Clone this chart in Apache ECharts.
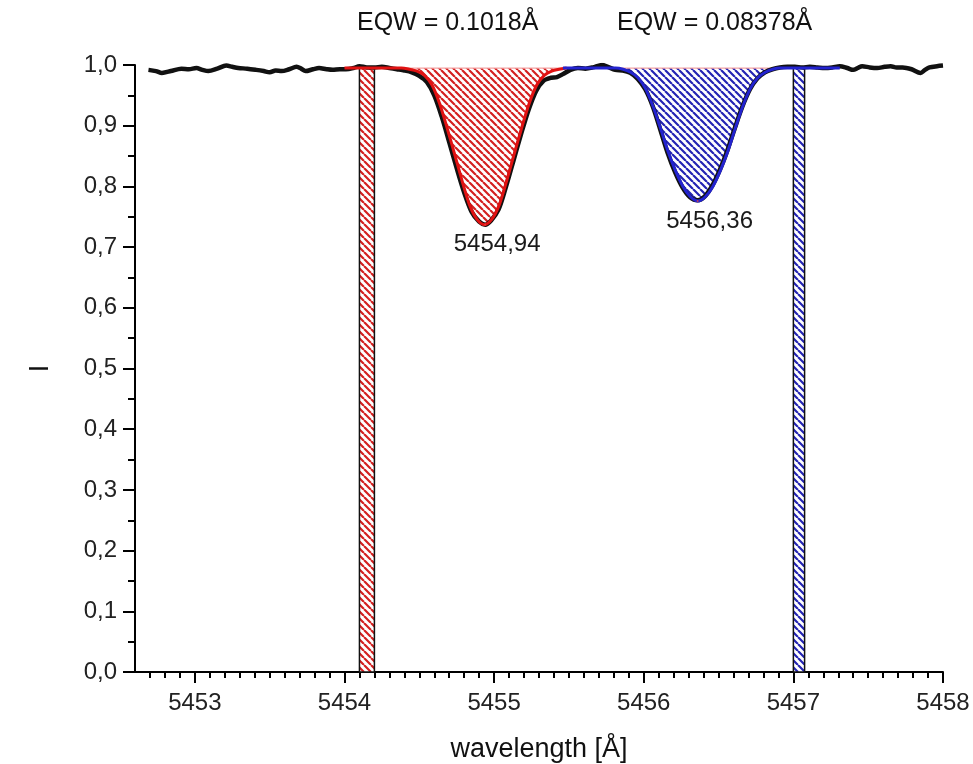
<!DOCTYPE html>
<html>
<head>
<meta charset="utf-8">
<script src="https://cdn.jsdelivr.net/npm/echarts@6/dist/echarts.min.js"></script>
<style>html,body{margin:0;padding:0;background:#fff}#c{width:973px;height:764px}</style>
</head>
<body>
<div id="c"></div>
<script>
// ---- data ----
const obsWave = [5452.69,5452.74,5452.78,5452.84,5452.91,5452.96,5453.01,5453.05,5453.09,5453.15,5453.21,5453.25,5453.29,5453.35,5453.41,5453.46,5453.50,5453.54,5453.58,5453.63,5453.68,5453.71,5453.74,5453.79,5453.83,5453.88,5453.92,5453.97,5454.01,5454.06,5454.10,5454.15,5454.20,5454.25,5454.30,5454.35,5454.40,5454.45,5454.50,5454.55,5454.60,5454.65,5454.70,5454.75,5454.80,5454.85,5454.90,5454.94,5454.98,5455.03,5455.08,5455.13,5455.18,5455.23,5455.28,5455.33,5455.38,5455.42,5455.46,5455.51,5455.56,5455.61,5455.66,5455.72,5455.76,5455.81,5455.86,5455.91,5455.96,5456.01,5456.06,5456.11,5456.16,5456.21,5456.26,5456.31,5456.36,5456.41,5456.46,5456.51,5456.56,5456.61,5456.66,5456.71,5456.76,5456.81,5456.86,5456.91,5456.96,5457.01,5457.06,5457.11,5457.16,5457.21,5457.26,5457.31,5457.36,5457.40,5457.43,5457.46,5457.51,5457.56,5457.61,5457.65,5457.69,5457.73,5457.79,5457.85,5457.88,5457.91,5457.96,5458.00];
const obsFlux = [0.992,0.990,0.987,0.990,0.994,0.993,0.995,0.992,0.990,0.994,0.999,0.997,0.995,0.994,0.992,0.990,0.988,0.991,0.990,0.993,0.997,0.994,0.990,0.993,0.995,0.993,0.992,0.993,0.993,0.995,0.998,0.996,0.996,0.997,0.995,0.993,0.991,0.988,0.982,0.972,0.950,0.915,0.873,0.830,0.790,0.758,0.742,0.737,0.744,0.762,0.800,0.843,0.886,0.926,0.957,0.974,0.979,0.980,0.985,0.992,0.995,0.994,0.996,1.000,0.997,0.992,0.991,0.987,0.977,0.960,0.932,0.894,0.855,0.823,0.798,0.782,0.777,0.784,0.802,0.828,0.860,0.897,0.932,0.960,0.978,0.988,0.993,0.996,0.997,0.997,0.996,0.997,0.996,0.995,0.996,0.998,0.995,0.992,0.995,0.998,0.996,0.995,0.997,0.998,0.996,0.996,0.993,0.987,0.992,0.996,0.998,0.999];

const fit1Wave = [5454.00,5454.20,5454.30,5454.38,5454.435,5454.485,5454.535,5454.585,5454.635,5454.685,5454.735,5454.785,5454.835,5454.885,5454.935,5454.985,5455.035,5455.085,5455.135,5455.185,5455.235,5455.285,5455.335,5455.385,5455.435,5455.485];
const fit1Flux = [0.995,0.995,0.995,0.995,0.993,0.990,0.983,0.967,0.937,0.897,0.854,0.810,0.770,0.746,0.737,0.746,0.770,0.810,0.854,0.897,0.937,0.967,0.983,0.990,0.993,0.995];

const fit2Wave = [5455.46,5455.60,5455.75,5455.812,5455.862,5455.912,5455.962,5456.012,5456.062,5456.112,5456.162,5456.212,5456.262,5456.312,5456.362,5456.412,5456.462,5456.512,5456.562,5456.612,5456.662,5456.712,5456.762,5456.812,5456.862,5456.912,5457.00,5457.31];
const fit2Flux = [0.995,0.995,0.995,0.995,0.993,0.988,0.979,0.961,0.932,0.896,0.858,0.826,0.800,0.783,0.776,0.783,0.800,0.826,0.858,0.896,0.932,0.961,0.979,0.988,0.993,0.995,0.995,0.995];

const continuumLevel = 0.995;
const continuumSpan = [5454.1, 5457.0];

const redBar = [5454.10, 5454.20];
const blueBar = [5457.00, 5457.075];

const lineCenters = [5454.94, 5456.36];
const lineMinima = [0.737, 0.776];
const lineLabels = ['5454,94', '5456,36'];

const eqwTexts = ['EQW = 0.1018Å', 'EQW = 0.08378Å'];

const xLabelValues = [5453, 5454, 5455, 5456, 5457, 5458];
const xMin = 5452.6, xMax = 5458;
// ---- end data ----

const xMinorTicks = [];
for (let i = 5452.7 * 10; i <= 5458 * 10 + 0.01; i++) {
  const v = Math.round(i) / 10;
  if (Math.abs(v - Math.round(v)) > 1e-6) xMinorTicks.push(v);
}

function hatch(color) {
  const s = 7;
  const c = document.createElement('canvas');
  c.width = s; c.height = s;
  const g = c.getContext('2d');
  g.fillStyle = '#ffffff';
  g.fillRect(0, 0, s, s);
  g.strokeStyle = color;
  g.lineWidth = 2.2;
  g.beginPath();
  for (const x0 of [-s, 0, s]) {
    g.moveTo(x0, 0);
    g.lineTo(x0 + s, s);
  }
  g.stroke();
  return { image: c, repeat: 'repeat' };
}
const redHatch = hatch('#d42020');
const blueHatch = hatch('#2424b4');

const zip = (a, b) => a.map((v, i) => [v, b[i]]);
const FONT = "'Liberation Sans', Arial, sans-serif";

const chart = echarts.init(document.getElementById('c'));
chart.setOption({
  animation: false,
  backgroundColor: '#ffffff',
  grid: { left: 135, right: 30, top: 65, bottom: 92, containLabel: false, outerBoundsMode: 'none' },
  graphic: [
    { type: 'text', left: 357, top: 11, style: { text: eqwTexts[0], font: "25px " + FONT, fill: '#111' } },
    { type: 'text', left: 617, top: 11, style: { text: eqwTexts[1], font: "25px " + FONT, fill: '#111' } }
  ],
  xAxis: [{
    type: 'value', min: xMin, max: xMax, position: 'bottom',
    name: 'wavelength [Å]', nameLocation: 'middle', nameGap: 64,
    nameTextStyle: { fontSize: 27, color: '#111', fontFamily: FONT },
    axisLine: { show: true, onZero: false, lineStyle: { color: '#000', width: 2 } },
    axisTick: { show: true, inside: false, length: 11, lineStyle: { color: '#000', width: 2 }, customValues: xLabelValues },
    axisLabel: { show: true, margin: 19, fontSize: 24, color: '#222', fontFamily: FONT, customValues: xLabelValues, formatter: v => String(Math.round(v)) },
    splitLine: { show: false }
  }, {
    type: 'value', min: xMin, max: xMax, position: 'bottom',
    axisLine: { show: false, onZero: false },
    axisTick: { show: true, inside: false, length: 6, lineStyle: { color: '#000', width: 2 }, customValues: xMinorTicks },
    axisLabel: { show: false },
    splitLine: { show: false }
  }],
  yAxis: {
    type: 'value', min: 0, max: 1, interval: 0.1,
    name: 'I', nameLocation: 'middle', nameGap: 81, nameRotate: 90,
    nameTextStyle: { fontSize: 27, color: '#111', fontFamily: FONT },
    axisLine: { show: true, onZero: false, lineStyle: { color: '#000', width: 2 } },
    axisTick: { show: true, inside: false, length: 12, lineStyle: { color: '#000', width: 2 } },
    minorTick: { show: true, splitNumber: 2, length: 7, lineStyle: { color: '#000', width: 2 } },
    axisLabel: { margin: 18, fontSize: 24, color: '#222', fontFamily: FONT, formatter: v => v.toFixed(1).replace('.', ',') },
    splitLine: { show: false }
  },
  series: [
    {
      name: 'bars', type: 'line', data: [], z: 1,
      markArea: {
        silent: true,
        label: { show: false },
        data: [
          [{ xAxis: redBar[0], yAxis: 0, itemStyle: { color: redHatch, borderColor: '#111', borderWidth: 1.5, opacity: 1 } }, { xAxis: redBar[1], yAxis: continuumLevel }],
          [{ xAxis: blueBar[0], yAxis: 0, itemStyle: { color: blueHatch, borderColor: '#111', borderWidth: 1.5, opacity: 1 } }, { xAxis: blueBar[1], yAxis: continuumLevel }]
        ]
      }
    },
    {
      name: 'fill1', type: 'line', data: zip(fit1Wave, fit1Flux), showSymbol: false, z: 2,
      lineStyle: { width: 0 }, areaStyle: { color: redHatch, opacity: 1, origin: continuumLevel }
    },
    {
      name: 'fill2', type: 'line', data: zip(fit2Wave, fit2Flux), showSymbol: false, z: 2,
      lineStyle: { width: 0 }, areaStyle: { color: blueHatch, opacity: 1, origin: continuumLevel }
    },
    {
      name: 'continuum', type: 'line', data: [[continuumSpan[0], continuumLevel], [continuumSpan[1], continuumLevel]],
      showSymbol: false, z: 3, lineStyle: { color: '#f3a3a3', width: 1.2 }
    },
    {
      name: 'observed', type: 'line', data: zip(obsWave, obsFlux), showSymbol: false, smooth: 0.3, z: 4,
      lineStyle: { color: '#111', width: 4.5 }
    },
    {
      name: 'fit1', type: 'line', data: zip(fit1Wave, fit1Flux), showSymbol: false, smooth: 0.3, z: 5,
      lineStyle: { color: '#e01212', width: 3 }
    },
    {
      name: 'fit2', type: 'line', data: zip(fit2Wave, fit2Flux), showSymbol: false, smooth: 0.3, z: 5,
      lineStyle: { color: '#2323cf', width: 3 }
    },
    {
      name: 'centers', type: 'scatter', z: 6, symbol: 'circle', symbolSize: 2,
      itemStyle: { color: '#e84040' },
      data: lineCenters.map((c, i) => ({ value: [c, lineMinima[i]], label: { formatter: lineLabels[i], color: '#1a1a1a' } })),
      label: { show: true, position: 'bottom', distance: 7, offset: [12, 0], fontSize: 24, color: '#1a1a1a', fontFamily: FONT, opacity: 1 }
    }
  ]
});
</script>
</body>
</html>
